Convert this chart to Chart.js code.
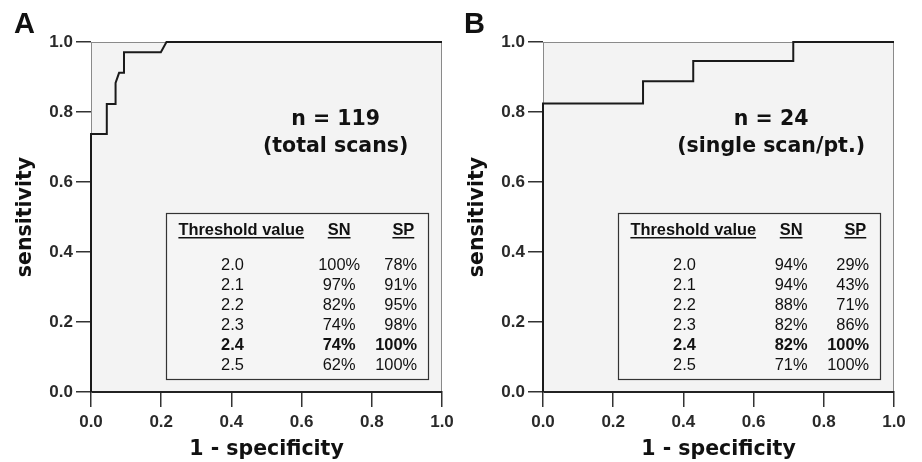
<!DOCTYPE html>
<html>
<head>
<meta charset="utf-8">
<script src="https://cdn.jsdelivr.net/npm/chart.js@4.4.1/dist/chart.umd.min.js"></script>
<style>
  html, body { margin: 0; padding: 0; background: #fff; }
  #wrap { position: relative; width: 922px; height: 462px; overflow: hidden; }
  .panel { position: absolute; top: 0; width: 461px; height: 462px; }
  #pa { left: 0; }
  #pb { left: 452px; }
</style>
</head>
<body>
<div id="wrap">
  <div class="panel" id="pa"><canvas id="chartA" width="461" height="462"></canvas></div>
  <div class="panel" id="pb"><canvas id="chartB" width="461" height="462"></canvas></div>
</div>
<script>
// ROC curve, panel A (n = 119, total scans)
const rocA_x = [0, 0, 0.045, 0.045, 0.070, 0.070, 0.080, 0.094, 0.094, 0.199, 0.215, 1.0];
const rocA_y = [0, 0.737, 0.737, 0.823, 0.823, 0.883, 0.912, 0.912, 0.971, 0.971, 1.0, 1.0];

// ROC curve, panel B (n = 24, single scan/pt.)
const rocB_x = [0, 0, 0.285, 0.285, 0.428, 0.428, 0.713, 0.713, 1.0];
const rocB_y = [0, 0.824, 0.824, 0.888, 0.888, 0.946, 0.946, 1.0, 1.0];

// tick labels (both axes)
const axisTicks = [0, 0.2, 0.4, 0.6, 0.8, 1.0];

// threshold tables
const thresholds = ['2.0', '2.1', '2.2', '2.3', '2.4', '2.5'];
const snA = ['100%', '97%', '82%', '74%', '74%', '62%'];
const spA = ['78%', '91%', '95%', '98%', '100%', '100%'];
const snB = ['94%', '94%', '88%', '82%', '82%', '71%'];
const spB = ['29%', '43%', '71%', '86%', '100%', '100%'];
const boldRow = 4;

const noteA = ['n = 119', '(total scans)'];
const noteB = ['n = 24', '(single scan/pt.)'];

const TABLE_FONT = '"Liberation Sans", Arial, sans-serif';
const LABEL_FONT = '"DejaVu Sans", sans-serif';

// fond gris, cadre, tableau, annotation et lettre du panneau
const decoPlugin = {
  id: 'rocDeco',
  beforeDraw(chart) {
    const { ctx, chartArea: a } = chart;
    ctx.save();
    ctx.fillStyle = '#f3f3f3';
    ctx.fillRect(a.left, a.top, a.right - a.left, a.bottom - a.top);
    ctx.strokeStyle = '#8a8a8a';
    ctx.lineWidth = 1;
    ctx.strokeRect(a.left + 0.5, a.top + 0.5, a.right - a.left - 1, a.bottom - a.top - 1);
    ctx.restore();
  },
  afterDatasetsDraw(chart, args, o) {
    const { ctx } = chart;
    const px = v => chart.scales.x.getPixelForValue(v);
    const py = v => chart.scales.y.getPixelForValue(v);
    ctx.save();

    // lettre du panneau
    ctx.fillStyle = '#111';
    ctx.font = 'bold 29px ' + TABLE_FONT;
    ctx.textAlign = 'left';
    ctx.textBaseline = 'alphabetic';
    ctx.fillText(o.letter, o.letterX, 33);

    // annotation n = ...
    ctx.font = 'bold 20.5px ' + LABEL_FONT;
    ctx.textAlign = 'center';
    ctx.fillText(o.note[0], px(o.noteX), py(0.764));
    ctx.fillText(o.note[1], px(o.noteX), py(0.685));

    // boîte du tableau
    const bx0 = px(0.214), bx1 = px(0.96), by0 = py(0.511), by1 = py(0.037);
    ctx.fillStyle = '#f5f5f5';
    ctx.fillRect(bx0, by0, bx1 - bx0, by1 - by0);
    ctx.strokeStyle = '#333';
    ctx.lineWidth = 1.2;
    ctx.strokeRect(Math.round(bx0) + 0.5, Math.round(by0) + 0.5, Math.round(bx1 - bx0), Math.round(by1 - by0));

    // en-têtes soulignés
    ctx.fillStyle = '#111';
    ctx.font = 'bold 16.4px ' + TABLE_FONT;
    const hy = py(0.4486);
    const underlined = (txt, x, align) => {
      ctx.textAlign = align;
      ctx.fillText(txt, x, hy);
      const w = ctx.measureText(txt).width;
      const x0 = align === 'left' ? x : align === 'center' ? x - w / 2 : x - w;
      ctx.fillRect(x0, hy + 2, w, 1.5);
    };
    underlined('Threshold value', px(0.249), 'left');
    underlined('SN', px(0.707), 'center');
    underlined('SP', px(0.921), 'right');

    // lignes du tableau
    thresholds.forEach((t, i) => {
      const y = py(0.349 - i * 0.0571);
      ctx.font = (i === boldRow ? 'bold ' : '') + '16.4px ' + TABLE_FONT;
      ctx.textAlign = 'center';
      ctx.fillText(t, px(0.403), y);
      ctx.fillText(o.sn[i], px(0.707), y);
      ctx.textAlign = 'right';
      ctx.fillText(o.sp[i], px(0.929), y);
    });
    ctx.restore();
  }
};

function makeRoc(canvasId, xs, ys, deco) {
  const points = xs.map((x, i) => ({ x: x, y: ys[i] }));
  const axis = (title, isX) => ({
    type: 'linear',
    min: 0,
    max: 1,
    afterBuildTicks: s => { s.ticks = axisTicks.map(v => ({ value: v })); },
    afterFit: s => { if (isX) s.height = 70; else s.width = 91; },
    ticks: {
      color: '#2a2a2a',
      padding: isX ? 5 : 3,
      font: { family: TABLE_FONT, weight: 'bold', size: 17 },
      callback: v => Number(v).toFixed(1)
    },
    grid: { drawOnChartArea: false, drawTicks: true, tickLength: 15, color: '#333', lineWidth: 1.5 },
    border: isX ? { color: '#222', width: 2 } : { color: '#8a8a8a', width: 1 },
    title: {
      display: true,
      text: title,
      color: '#111',
      font: { family: LABEL_FONT, weight: 'bold', size: 20.5 },
      padding: isX ? { top: 4, bottom: 0 } : { top: 13, bottom: 0 }
    }
  });

  return new Chart(document.getElementById(canvasId), {
    type: 'scatter',
    data: {
      datasets: [{
        data: points,
        showLine: true,
        borderColor: '#1a1a1a',
        borderWidth: 2,
        pointRadius: 0,
        fill: false,
        tension: 0,
        clip: 4
      }]
    },
    options: {
      responsive: false,
      animation: false,
      devicePixelRatio: 1,
      layout: { padding: { left: 0, right: 19, top: 42, bottom: 0 } },
      scales: { x: axis('1 - specificity', true), y: axis('sensitivity', false) },
      plugins: { legend: { display: false }, tooltip: { enabled: false }, rocDeco: deco }
    },
    plugins: [decoPlugin]
  });
}

makeRoc('chartA', rocA_x, rocA_y, { letter: 'A', letterX: 14, note: noteA, noteX: 0.697, sn: snA, sp: spA });
makeRoc('chartB', rocB_x, rocB_y, { letter: 'B', letterX: 12, note: noteB, noteX: 0.650, sn: snB, sp: spB });
</script>
</body>
</html>
